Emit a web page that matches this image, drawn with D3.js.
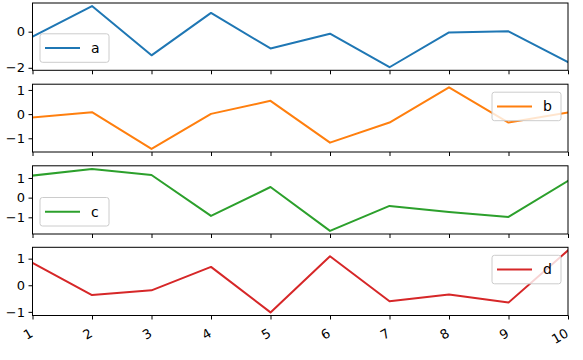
<!DOCTYPE html>
<html><head><meta charset="utf-8">
<script src="https://cdn.jsdelivr.net/npm/d3@7"></script>
<style>body{margin:0;background:#fff;} text{font-family:"DejaVu Sans",sans-serif;}</style>
</head><body>
<svg id="chart" width="583" height="360"></svg>
<script>
const xValues = [1,2,3,4,5,6,7,8,9,10];
const seriesA = [-0.28, 1.42, -1.31, 1.04, -0.93, -0.11, -1.97, -0.04, 0.02, -1.69];
const seriesB = [-0.14, 0.08, -1.44, 0.01, 0.55, -1.18, -0.35, 1.11, -0.35, 0.07];
const seriesC = [1.12, 1.46, 1.15, -0.93, 0.54, -1.69, -0.42, -0.73, -0.98, 0.85];
const seriesD = [0.84, -0.37, -0.19, 0.69, -1.02, 1.09, -0.60, -0.35, -0.65, 1.31];
const seriesNames = ["a","b","c","d"];
const colors = ["#1f77b4","#ff7f0e","#2ca02c","#d62728"];
const yTicks = [[-2,0],[-1,0,1],[-1,0,1],[-1,0,1]];
const legendPos = ["lowerleft","upperright","lowerleft","upperright"];
const allSeries = [seriesA, seriesB, seriesC, seriesD];

const svg = d3.select("#chart");
const left = 32.5, right = 568;
const panels = [[3,70.3],[84.2,152],[165.8,234],[247.3,315.5]];
const x = d3.scaleLinear().domain([1,10]).range([left,right]);

allSeries.forEach((vals, i) => {
  const [top, bottom] = panels[i];
  const mn = d3.min(vals), mx = d3.max(vals), pad = (mx-mn)*0.05;
  const y = d3.scaleLinear().domain([mn-pad, mx+pad]).range([bottom, top]);
  const g = svg.append("g");
  const clipId = "clip"+i;
  svg.append("clipPath").attr("id", clipId).append("rect")
    .attr("x", left).attr("y", top).attr("width", right-left).attr("height", bottom-top);
  g.append("path").datum(vals)
    .attr("clip-path", `url(#${clipId})`)
    .attr("fill","none").attr("stroke", colors[i]).attr("stroke-width",2)
    .attr("stroke-linejoin","round").attr("stroke-linecap","square")
    .attr("d", d3.line().x((d,j)=>x(xValues[j])).y(d=>y(d)));
  // frame
  g.append("rect").attr("x",left).attr("y",top).attr("width",right-left).attr("height",bottom-top)
    .attr("fill","none").attr("stroke","#000").attr("stroke-width",1);
  // y axis
  const ya = g.append("g").attr("transform",`translate(${left},0)`)
    .call(d3.axisLeft(y).tickValues(yTicks[i]).tickSize(4).tickPadding(3.5).tickFormat(d=>String(d).replace("-","\u2212")));
  ya.select(".domain").remove();
  ya.selectAll("line").attr("stroke","#000").attr("stroke-width",1);
  ya.selectAll("text").attr("font-size",13).attr("fill","#000").attr("font-family","DejaVu Sans");
  // x axis ticks
  const xa = g.append("g").attr("transform",`translate(0,${bottom})`)
    .call(d3.axisBottom(x).tickValues(xValues).tickSize(4).tickFormat(i===3? d3.format("d") : ""));
  xa.select(".domain").remove();
  xa.selectAll("line").attr("stroke","#000").attr("stroke-width",1);
  if (i===3) {
    xa.selectAll("text").attr("font-size",13).attr("fill","#000").attr("font-family","DejaVu Sans")
      .attr("text-anchor","end").attr("y",0).attr("dy","0.75em")
      .attr("transform",d=>`translate(-4,12) rotate(-30)`);
  } else {
    xa.selectAll("text").remove();
  }
  // legend
  const lw = 69, lh = 28.5;
  const lx = legendPos[i]==="lowerleft" ? 40 : 492;
  const ly = legendPos[i]==="lowerleft" ? bottom - 8 - lh : top + 8;
  const lg = svg.append("g").attr("transform",`translate(${lx},${ly})`);
  lg.append("rect").attr("width",lw).attr("height",lh).attr("rx",2.5)
    .attr("fill","#fff").attr("fill-opacity",0.8).attr("stroke","#cccccc").attr("stroke-width",1);
  lg.append("line").attr("x1",5).attr("x2",40).attr("y1",lh/2).attr("y2",lh/2)
    .attr("stroke",colors[i]).attr("stroke-width",2);
  lg.append("text").attr("x",51).attr("y",lh/2).attr("dy","0.35em").attr("font-size",14)
    .attr("fill","#000").text(seriesNames[i]);
});
</script>
</body></html>
